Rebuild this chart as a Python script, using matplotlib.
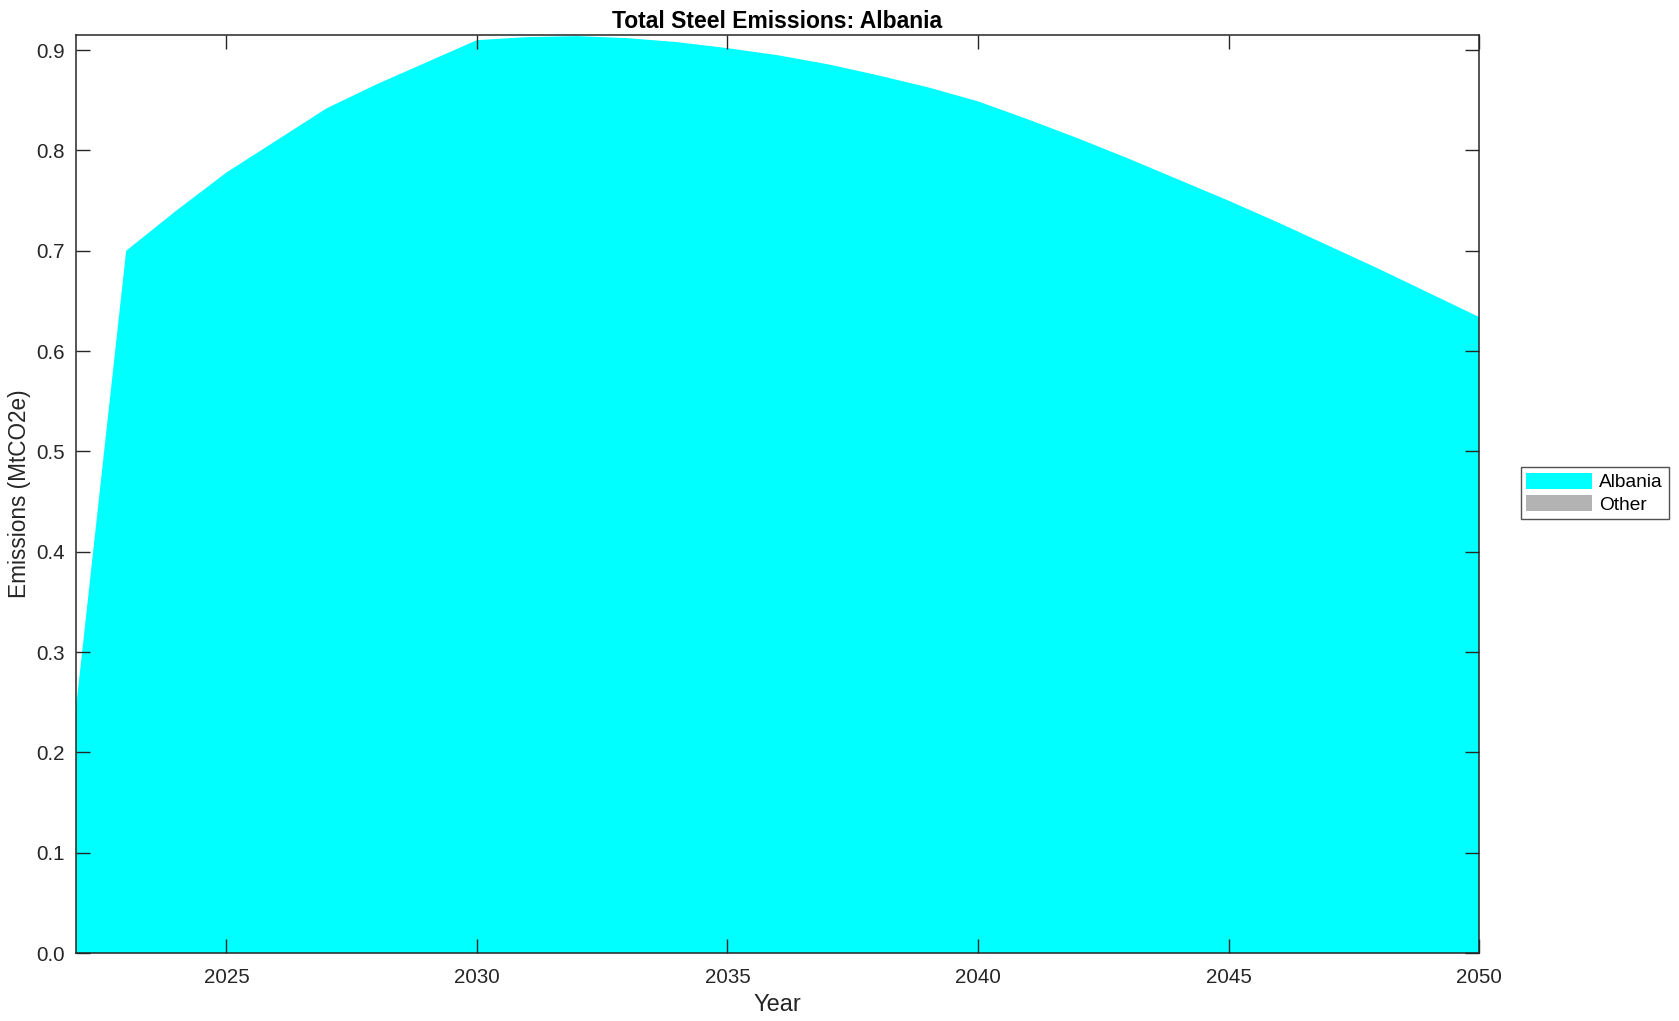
import matplotlib.pyplot as plt
import numpy as np

plt.rcParams['font.family'] = ['Liberation Sans', 'DejaVu Sans']

years = np.arange(2022, 2051)
albania = [0.245, 0.700, 0.740, 0.778, 0.810, 0.842, 0.866, 0.888, 0.910,
           0.913, 0.914, 0.912, 0.908, 0.902, 0.895, 0.886, 0.875, 0.863,
           0.849, 0.831, 0.812, 0.792, 0.771, 0.750, 0.728, 0.705, 0.682,
           0.658, 0.634]
other = [0.0] * len(years)
labels = ['Albania', 'Other']
colors = ['#00ffff', '#b3b3b3']

fig = plt.figure(figsize=(16.79, 10.21), dpi=100)
ax = fig.add_axes([0.0453, 0.0666, 0.8356, 0.899])

ax.stackplot(years, albania, other, labels=labels, colors=colors, linewidth=0)

ax.set_xlim(2022, 2050)
ax.set_ylim(0, 0.915)
ax.set_xticks(np.arange(2025, 2051, 5))
ax.set_yticks(np.arange(0, 0.91, 0.1))
ax.yaxis.set_major_formatter(plt.FormatStrFormatter('%.1f'))
ax.tick_params(direction='in', length=10, width=1, top=True, right=True,
               labelsize=14.8, colors='#262626', pad=8)
ax.tick_params(axis='x', pad=11)
for s in ax.spines.values():
    s.set_color('#262626')
    s.set_linewidth(1.1)

ax.set_title('Total Steel Emissions: Albania', fontsize=16.5, fontweight='bold', pad=5)
ax.set_xlabel('Year', fontsize=17, color='#262626', labelpad=5)
ax.set_ylabel('Emissions (MtCO2e)', fontsize=16.3, color='#262626')

leg = fig.legend(loc='upper left', bbox_to_anchor=(0.9, 0.552), fontsize=13.8,
                 frameon=True, fancybox=False, edgecolor='#262626',
                 handlelength=3.4, handleheight=0.9, borderpad=0.3,
                 labelspacing=0.2, handletextpad=0.4)
leg.get_frame().set_linewidth(1.0)

fig.savefig('out.png', dpi=100)
